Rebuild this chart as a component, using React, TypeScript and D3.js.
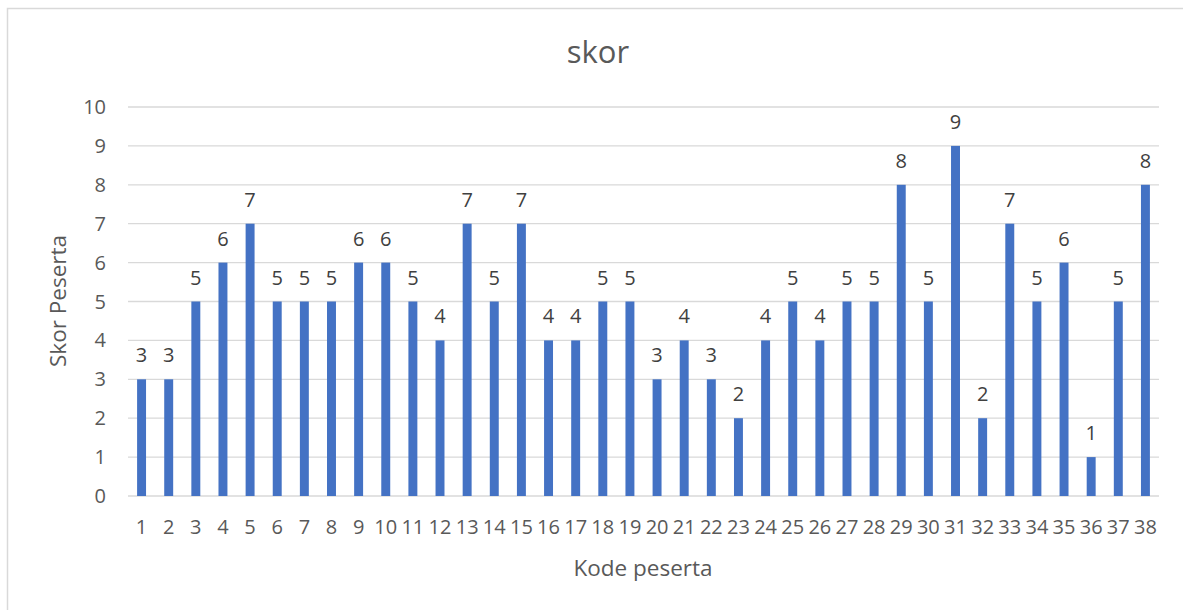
import * as d3 from "d3"
import { useEffect, useRef } from "react"

const kode = d3.range(1, 39).map(String)
const skor = [3, 3, 5, 6, 7, 5, 5, 5, 6, 6, 5, 4, 7, 5, 7, 4, 4, 5, 5, 3, 4, 3, 2, 4, 5, 4, 5, 5, 8, 5, 9, 2, 7, 5, 6, 1, 5, 8]
const yTicks = [0, 1, 2, 3, 4, 5, 6, 7, 8, 9, 10]

export default function App() {
    const svgRef = useRef<SVGSVGElement>(null)

    useEffect(() => {
        const width = 1183
        const height = 610
        const marginLeft = 128
        const marginRight = 24
        const marginTop = 107
        const marginBottom = 114
        const font = "'Open Sans', 'Noto Sans', sans-serif"
        const textColor = "#595959"

        if (svgRef.current !== null) {
            svgRef.current.innerHTML = ""
        }

        const svg = d3.select(svgRef.current)
            .attr("width", width)
            .attr("height", height)
            .style("font-family", font)

        svg.append("rect")
            .attr("x", 7.5)
            .attr("y", 8.5)
            .attr("width", width)
            .attr("height", height)
            .attr("fill", "white")
            .attr("stroke", "#d9d9d9")
            .attr("stroke-width", 1.5)

        const x = d3.scaleBand(kode, [marginLeft, width - marginRight]).paddingInner(0.67).paddingOuter(0.335)
        const y = d3.scaleLinear([0, 10], [height - marginBottom, marginTop])

        // gridlines
        svg.append("g")
            .attr("stroke", "#d9d9d9")
            .attr("stroke-width", 1.3)
            .selectAll()
            .data(yTicks)
            .join("line")
                .attr("x1", marginLeft)
                .attr("x2", width - marginRight)
                .attr("y1", d => y(d))
                .attr("y2", d => y(d))

        // y tick labels
        svg.append("g")
            .attr("fill", textColor)
            .attr("font-size", 20)
            .attr("text-anchor", "end")
            .selectAll()
            .data(yTicks)
            .join("text")
                .attr("x", marginLeft - 22)
                .attr("y", d => y(d))
                .attr("dy", "0.35em")
                .text(d => d)

        // bars
        svg.append("g")
            .attr("fill", "#4472c4")
            .selectAll()
            .data(skor)
            .join("rect")
                .attr("x", (d, i) => x(kode[i])!)
                .attr("y", d => y(d))
                .attr("width", x.bandwidth())
                .attr("height", d => y(0) - y(d))

        // data labels
        svg.append("g")
            .attr("fill", "#404040")
            .attr("font-size", 20)
            .attr("text-anchor", "middle")
            .selectAll()
            .data(skor)
            .join("text")
                .attr("x", (d, i) => x(kode[i])! + x.bandwidth() / 2)
                .attr("y", d => y(d) - 17)
                .text(d => d)

        // x tick labels
        svg.append("g")
            .attr("fill", textColor)
            .attr("font-size", 20)
            .attr("text-anchor", "middle")
            .selectAll()
            .data(kode)
            .join("text")
                .attr("x", d => x(d)! + x.bandwidth() / 2)
                .attr("y", 527)
                .attr("dy", "0.35em")
                .text(d => d)

        svg.append("text")
            .attr("x", 598)
            .attr("y", 63)
            .attr("text-anchor", "middle")
            .attr("fill", textColor)
            .attr("font-size", 31)
            .text("skor")

        svg.append("text")
            .attr("x", 643)
            .attr("y", 576)
            .attr("text-anchor", "middle")
            .attr("fill", textColor)
            .attr("font-size", 22.5)
            .text("Kode peserta")

        svg.append("text")
            .attr("transform", `translate(66, 301) rotate(-90)`)
            .attr("text-anchor", "middle")
            .attr("fill", textColor)
            .attr("font-size", 22.5)
            .text("Skor Peserta")
    }, [])

    return <svg ref={svgRef} style={{ position: "fixed", left: 0, top: 0 }}></svg>
}
